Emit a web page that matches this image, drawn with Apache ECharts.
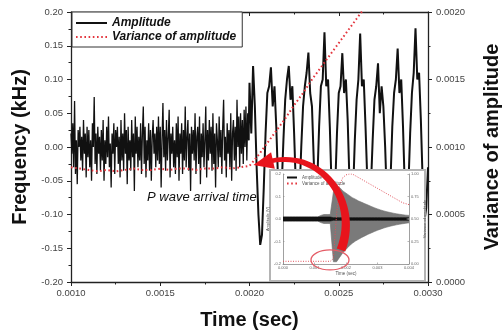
<!DOCTYPE html>
<html><head><meta charset="utf-8">
<script src="https://cdn.jsdelivr.net/npm/echarts@6/dist/echarts.min.js"></script>
<style>html,body{margin:0;padding:0;background:#fff}#c{width:504px;height:335px}</style>
</head><body><div id="c"></div>
<script>
// ---------- main chart data ----------
// background noise before arrival, sampled every 5 microseconds from 0.0010 s
const noiseStart = 0.0010, noiseStep = 0.000005;
const noiseAmplitude = [
0.02,-0.01,0.035,-0.03,0.068,-0.04,0.01,-0.055,0.025,0.0,0.03,-0.02,0.015,-0.035,0.04,-0.01,0.02,-0.045,0.03,-0.015,
0.025,-0.03,0.01,-0.05,0.035,0.0,0.074,-0.025,0.02,-0.04,0.03,-0.01,0.015,-0.035,0.025,-0.02,0.04,-0.05,0.01,-0.025,
0.03,-0.015,0.045,-0.03,0.005,-0.06,0.02,-0.01,0.035,-0.04,0.025,0.0,0.03,-0.025,0.015,-0.045,0.04,-0.02,0.02,-0.035,
0.05,-0.01,0.025,-0.055,0.03,-0.02,0.01,-0.035,0.04,-0.015,0.02,-0.065,0.045,-0.01,0.03,-0.03,0.015,-0.02,0.035,-0.04,
0.02,0.06,-0.025,0.03,-0.045,0.01,-0.02,0.035,-0.035,0.025,-0.05,0.015,0.04,-0.01,0.02,-0.03,0.03,-0.02,0.045,-0.025,
0.03,-0.06,0.01,0.065,-0.015,0.025,-0.035,0.04,-0.02,0.015,0.055,-0.045,0.02,-0.01,0.03,-0.03,0.01,-0.04,0.035,-0.015,
0.045,-0.05,0.02,-0.01,0.035,-0.04,0.025,-0.02,0.06,-0.03,0.015,0.04,-0.035,0.02,-0.065,0.03,-0.01,0.025,-0.02,0.05,
-0.04,0.015,0.03,-0.025,0.045,-0.055,0.02,-0.015,0.035,-0.03,0.01,0.06,-0.045,0.025,-0.02,0.04,-0.01,0.03,-0.035,0.05,
-0.025,0.02,-0.06,0.035,0.01,-0.03,0.045,-0.015,0.025,-0.04,0.03,0.07,-0.02,0.015,-0.045,0.035,-0.01,0.025,-0.03,0.05,
-0.05,0.02,0.04,-0.02,0.03,-0.035,0.07,0.0,0.045,-0.03,0.05,-0.01,0.04,-0.025,0.055,0.0,0.06,-0.02,0.05,0.01];
// signal after arrival, sampled every 10 microseconds from 0.0020 s
const signalStart = 0.0020, signalStep = 0.00001;
const signalAmplitude = [
0.095,0.02,0.12,0.06,-0.03,-0.10,-0.145,-0.13,-0.06,0.02,
0.08,0.09,0.118,0.06,0.09,0.03,-0.05,-0.11,-0.06,0.01,
0.07,0.10,0.12,0.07,0.09,0.02,-0.06,-0.12,-0.07,0.0,
0.06,0.09,0.11,0.14,0.08,0.06,-0.02,-0.10,-0.05,0.03,
0.09,0.10,0.17,0.09,0.10,0.03,-0.06,-0.12,-0.06,0.02,
0.08,0.09,0.139,0.08,0.10,0.04,-0.05,-0.11,-0.07,0.01,
0.07,0.10,0.168,0.09,0.10,0.03,-0.05,-0.12,-0.06,0.01,
0.07,0.09,0.124,0.05,0.09,0.06,0.0,-0.08,-0.12,-0.05,
0.03,0.08,0.10,0.146,0.08,0.10,0.03,-0.06,-0.11,-0.06,
0.02,0.08,0.11,0.176,0.10,0.11,0.04,-0.05,-0.11,-0.09,
-0.03];
const varTimeStart = 0.0010, varTimeStep = 0.00005;
const variance = [
0.00085,0.00084,0.00083,0.00082,0.00083,0.00082,0.00083,0.00084,0.00083,0.00083,
0.00084,0.00083,0.00084,0.00084,0.00083,0.00084,0.00084,0.00085,0.00084,0.00085,
0.00086,0.00094,0.00103,0.00112,0.00121,0.00131,0.00140,0.00150,0.00159,0.00168,
0.00177,0.00186,0.00195,0.00204];
const xTickLabels = ['0.0010','0.0015','0.0020','0.0025','0.0030'];
const yLeftTickLabels = ['-0.20','-0.15','-0.10','-0.05','0.00','0.05','0.10','0.15','0.20'];
const yRightTickLabels = ['0.0000','0.0005','0.0010','0.0015','0.0020'];

// ---------- inset data ----------
const insetStep = 0.0001;
const insetUpper = [0.009,0.009,0.009,0.009,0.009,0.009,0.009,0.009,0.009,0.009,0.009,0.009,0.016,0.02,0.02,0.02,
0.12,0.15,0.14,0.125,0.115,0.105,0.095,0.088,0.08,0.074,0.068,0.062,0.056,0.05,0.045,0.04,0.036,0.032,0.029,0.026,0.023,0.021,0.019,0.017,0.016];
const insetLower = [-0.009,-0.009,-0.009,-0.009,-0.009,-0.009,-0.009,-0.009,-0.009,-0.009,-0.009,-0.009,-0.016,-0.02,-0.02,-0.02,
-0.19,-0.19,-0.17,-0.15,-0.135,-0.12,-0.108,-0.098,-0.09,-0.082,-0.075,-0.068,-0.062,-0.056,-0.05,-0.045,-0.04,-0.036,-0.032,-0.029,-0.026,-0.023,-0.021,-0.019,-0.017];
const insetCoreUp = [0.009,0.009,0.009,0.009,0.009,0.009,0.009,0.009,0.009,0.009,0.009,0.009,0.009,0.009,0.009,0.009,
0.006,0.006,0.006,0.006,0.006,0.006,0.006,0.006,0.006,0.006,0.006,0.006,0.006,0.006,0.006,0.006,0.006,0.006,0.006,0.006,0.006,0.006,0.006,0.006,0.006];
const insetCoreDown = [-0.009,-0.009,-0.009,-0.009,-0.009,-0.009,-0.009,-0.009,-0.009,-0.009,-0.009,-0.009,-0.009,-0.009,-0.009,-0.009,
-0.006,-0.006,-0.006,-0.006,-0.006,-0.006,-0.006,-0.006,-0.006,-0.006,-0.006,-0.006,-0.006,-0.006,-0.006,-0.006,-0.006,-0.006,-0.006,-0.006,-0.006,-0.006,-0.006,-0.006,-0.006];
const insetVariance = [0.03,0.03,0.03,0.03,0.03,0.03,0.03,0.03,0.03,0.03,0.03,0.03,0.03,0.03,0.03,0.03,
0.06,0.55,0.88,0.96,0.99,1.0,1.0,0.98,0.96,0.94,0.92,0.90,0.88,0.86,0.84,0.82,0.80,0.78,0.76,0.74,0.72,0.70,0.68,0.67,0.66];
const insetXLabels = ['0.000','0.001','0.002','0.003','0.004'];
const insetYLabels = ['-0.2','-0.1','0.0','0.1','0.2'];
const insetRLabels = ['0.00','0.25','0.50','0.75','1.00'];

// ---------- annotation anchors (data coordinates) ----------
const arrowTail = [0.0025126, -0.1526];
const arrowCtrl1 = [0.002619, -0.0785];
const arrowCtrl2 = [0.002395, -0.0044];
const arrowEnd = [0.0021204, -0.0207];
const pwaveLabelAt = [0.0014258, -0.0741];
const ellipseAt = [0.001492, -0.182];

const FONT = 'Liberation Sans, Arial, sans-serif';
const chart = echarts.init(document.getElementById('c'), null, {renderer:'canvas'});

const noiseData = noiseAmplitude.map((v,i)=>[noiseStart + i*noiseStep, v]);
const signalData = [noiseData[noiseData.length-1]].concat(signalAmplitude.map((v,i)=>[signalStart + i*signalStep, v]));
const varData = variance.map((v,i)=>[varTimeStart + i*varTimeStep, v]);
const inX = k => k*insetStep;
const mk = arr => arr.map((v,k)=>[inX(k), v]);

const axisCol = '#222';
const mainLabel = {fontSize:9.5, color:'#444', fontFamily:FONT};

const option = {
  animation:false,
  backgroundColor:'#fff',
  grid:[
    {left:71, right:76, top:12, bottom:53, show:false, outerBoundsMode:'none', containLabel:false},
    {left:283, right:95, top:174, bottom:71, show:true, backgroundColor:'#fff', borderWidth:0, z:51, outerBoundsMode:'none', containLabel:false}
  ],
  legend:[
    {data:['Amplitude','Variance of amplitude'], orient:'vertical', left:72, top:12,
     itemWidth:31, itemHeight:14, itemGap:2, padding:[5,6,4,3],
     borderColor:'#333', borderWidth:1, backgroundColor:'#fff', selectedMode:false,
     itemStyle:{opacity:0}, lineStyle:{opacity:1},
     textStyle:{fontSize:12, fontStyle:'italic', fontWeight:'bold', color:'#111', fontFamily:FONT}, z:20},
    {data:['Amplitude','Variance of amplitude'], orient:'vertical', left:286, top:175,
     itemWidth:10, itemHeight:4, itemGap:1, padding:0, selectedMode:false,
     itemStyle:{opacity:0}, lineStyle:{opacity:1},
     textStyle:{fontSize:4.5, color:'#555', fontFamily:FONT}, z:56}
  ],
  xAxis:[
    {type:'value', gridIndex:0, min:0.001, max:0.003, interval:0.0005, position:'bottom',
     name:'Time (sec)', nameLocation:'middle', nameGap:28,
     nameTextStyle:{fontSize:20, fontWeight:'bold', color:'#111', fontFamily:FONT},
     axisLine:{show:true, onZero:false, lineStyle:{color:axisCol, width:1.3}},
     axisTick:{show:true, length:4, lineStyle:{color:axisCol}},
     minorTick:{show:true, splitNumber:2, length:2.5, lineStyle:{color:axisCol}},
     axisLabel:Object.assign({margin:6, formatter:v=>xTickLabels[Math.round((v-0.001)/0.0005)]}, mainLabel),
     splitLine:{show:false}},
    {type:'value', gridIndex:0, min:0.001, max:0.003, interval:0.0005, position:'top',
     axisLine:{show:true, onZero:false, lineStyle:{color:axisCol, width:1.3}},
     axisTick:{show:true, inside:true, length:4, lineStyle:{color:axisCol}},
     minorTick:{show:true, splitNumber:2, length:2.5, lineStyle:{color:axisCol}},
     axisLabel:{show:false}, splitLine:{show:false}},
    {type:'value', gridIndex:1, min:0, max:0.004, interval:0.001, position:'bottom', z:52,
     name:'Time (sec)', nameLocation:'middle', nameGap:7,
     nameTextStyle:{fontSize:4.5, color:'#555', fontFamily:FONT},
     axisLine:{show:true, onZero:false, lineStyle:{color:'#888', width:0.8}},
     axisTick:{show:true, inside:true, length:1.5, lineStyle:{color:'#888', width:0.6}},
     axisLabel:{fontSize:4, color:'#666', margin:2, formatter:v=>insetXLabels[Math.round(v/0.001)]},
     splitLine:{show:false}}
  ],
  yAxis:[
    {type:'value', gridIndex:0, min:-0.2, max:0.2, interval:0.05, position:'left',
     name:'Frequency (kHz)', nameLocation:'middle', nameGap:40, nameRotate:90,
     nameTextStyle:{fontSize:20, fontWeight:'bold', color:'#111', fontFamily:FONT},
     axisLine:{show:true, onZero:false, lineStyle:{color:axisCol, width:1.3}},
     axisTick:{show:true, length:4, lineStyle:{color:axisCol}},
     minorTick:{show:true, splitNumber:2, length:2.5, lineStyle:{color:axisCol}},
     axisLabel:Object.assign({margin:8, formatter:v=>yLeftTickLabels[Math.round((v+0.2)/0.05)]}, mainLabel),
     splitLine:{show:false}},
    {type:'value', gridIndex:0, min:0, max:0.002, interval:0.0005, position:'right',
     name:'Variance of amplitude', nameLocation:'middle', nameGap:54, nameRotate:90,
     nameTextStyle:{fontSize:20, fontWeight:'bold', color:'#111', fontFamily:FONT},
     axisLine:{show:true, onZero:false, lineStyle:{color:axisCol, width:1.3}},
     axisTick:{show:true, length:4, lineStyle:{color:axisCol}},
     minorTick:{show:true, splitNumber:2, length:2.5, lineStyle:{color:axisCol}},
     axisLabel:Object.assign({margin:8, formatter:v=>yRightTickLabels[Math.round(v/0.0005)]}, mainLabel),
     splitLine:{show:false}},
    {type:'value', gridIndex:1, min:-0.2, max:0.2, interval:0.1, position:'left', z:52,
     name:'Amplitude (V)', nameLocation:'middle', nameGap:9, nameRotate:90,
     nameTextStyle:{fontSize:4, color:'#555', fontFamily:FONT},
     axisLine:{show:true, onZero:false, lineStyle:{color:'#888', width:0.8}},
     axisTick:{show:true, inside:true, length:1.5, lineStyle:{color:'#888', width:0.6}},
     axisLabel:{fontSize:4, color:'#666', margin:2, formatter:v=>insetYLabels[Math.round((v+0.2)/0.1)]},
     splitLine:{show:false}},
    {type:'value', gridIndex:1, min:0, max:1, interval:0.25, position:'right', z:52,
     name:'Variance of amplitude', nameLocation:'middle', nameGap:10, nameRotate:90,
     nameTextStyle:{fontSize:4, color:'#555', fontFamily:FONT},
     axisLine:{show:true, onZero:false, lineStyle:{color:'#888', width:0.8}},
     axisTick:{show:true, inside:true, length:1.5, lineStyle:{color:'#888', width:0.6}},
     axisLabel:{fontSize:4, color:'#666', margin:2, formatter:v=>insetRLabels[Math.round(v/0.25)]},
     splitLine:{show:false}}
  ],
  series:[
    {name:'Amplitude', type:'line', xAxisIndex:0, yAxisIndex:0, data:noiseData, symbol:'none', z:3,
     lineStyle:{color:'#111', width:1.3}, itemStyle:{color:'#111'}},
    {name:'Amplitude', type:'line', xAxisIndex:0, yAxisIndex:0, data:signalData, symbol:'none', z:3,
     lineStyle:{color:'#111', width:2}, itemStyle:{color:'#111'}},
    {name:'Variance of amplitude', type:'line', xAxisIndex:0, yAxisIndex:1, data:varData, symbol:'none', z:4,
     lineStyle:{color:'#e3343c', width:2, type:[1.6,2.6]}, itemStyle:{color:'#e3343c'}},
    {name:'insetOuterUp', type:'line', xAxisIndex:2, yAxisIndex:2, data:mk(insetUpper), symbol:'none', z:53,
     lineStyle:{color:'#6e6e6e', width:0.6}, areaStyle:{color:'#7a7a7a', opacity:1}},
    {name:'insetOuterDown', type:'line', xAxisIndex:2, yAxisIndex:2, data:mk(insetLower), symbol:'none', z:53,
     lineStyle:{color:'#6e6e6e', width:0.6}, areaStyle:{color:'#7a7a7a', opacity:1}},
    {name:'insetCoreUp', type:'line', xAxisIndex:2, yAxisIndex:2, data:mk(insetCoreUp), symbol:'none', z:54,
     lineStyle:{color:'#111', width:0.6}, areaStyle:{color:'#111', opacity:1}},
    {name:'insetCoreDown', type:'line', xAxisIndex:2, yAxisIndex:2, data:mk(insetCoreDown), symbol:'none', z:54,
     lineStyle:{color:'#111', width:0.6}, areaStyle:{color:'#111', opacity:1}},
    {name:'insetVariance', type:'line', xAxisIndex:2, yAxisIndex:3, data:mk(insetVariance), symbol:'none', z:55,
     lineStyle:{color:'#e0505a', width:1, type:[1,1.5]}}
  ]
};
chart.setOption(option);

// ---------- annotations ----------
const px = p => chart.convertToPixel({xAxisIndex:0, yAxisIndex:0}, p);
const P0 = px(arrowTail), C1 = px(arrowCtrl1), C2 = px(arrowCtrl2), P3 = px(arrowEnd);
function bez(s){const u=1-s;return [u*u*u*P0[0]+3*u*u*s*C1[0]+3*u*s*s*C2[0]+s*s*s*P3[0],
  u*u*u*P0[1]+3*u*u*s*C1[1]+3*u*s*s*C2[1]+s*s*s*P3[1]];}
const left=[], right=[];
const N=30;
for(let i=0;i<=N;i++){
  const s=i/N, p=bez(s), a=bez(Math.max(0,s-0.01)), b=bez(Math.min(1,s+0.01));
  let dx=b[0]-a[0], dy=b[1]-a[1]; const L=Math.hypot(dx,dy); dx/=L; dy/=L;
  const w=(9*(1-s)+4.5*s)/2;
  left.push([p[0]-dy*w, p[1]+dx*w]); right.push([p[0]+dy*w, p[1]-dx*w]);
}
const body = left.concat(right.reverse());
let ddx=P3[0]-C2[0], ddy=P3[1]-C2[1]; const LL=Math.hypot(ddx,ddy); ddx/=LL; ddy/=LL;
const tip=[P3[0]+ddx*18, P3[1]+ddy*18], hw=8.5;
const head=[tip,[P3[0]-ddy*hw-ddx*2, P3[1]+ddx*hw-ddy*2],[P3[0]+ddy*hw-ddx*2, P3[1]-ddx*hw-ddy*2]];
const lab = px(pwaveLabelAt);
const ell = chart.convertToPixel({xAxisIndex:2, yAxisIndex:2}, ellipseAt);

chart.setOption({graphic:[
  {type:'rect', shape:{x:270, y:170, width:155, height:111}, style:{fill:'#fff', stroke:'#b4b4b4', lineWidth:2}, z:50},
  {type:'text', x:lab[0], y:lab[1], style:{text:'P wave arrival time', fontSize:13, fontStyle:'italic', fontFamily:FONT, fill:'#111', textVerticalAlign:'middle'}, z:20},
  {type:'ellipse', shape:{cx:ell[0], cy:ell[1], rx:19, ry:10}, style:{fill:null, stroke:'#e45c66', lineWidth:1.3}, z:58},
  {type:'polygon', shape:{points:body}, style:{fill:'#e8141c'}, z:60},
  {type:'polygon', shape:{points:head}, style:{fill:'#e8141c'}, z:60}
]});
</script></body></html>
